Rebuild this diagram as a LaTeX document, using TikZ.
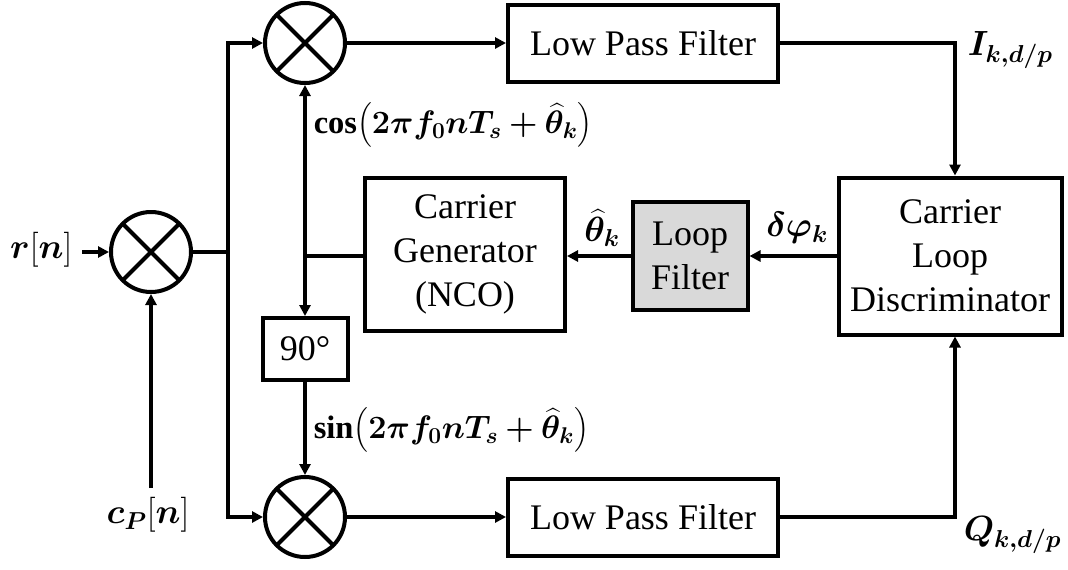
\RequirePackage{fix-cm}
\documentclass[tikz,border=0pt]{standalone}
\usepackage{amsmath}
\usepackage{bm}
\usepackage{fontspec}
\setmainfont{Liberation Serif}
\usetikzlibrary{arrows.meta}
\definecolor{lfgray}{RGB}{217,217,217}
\begin{document}
\begin{tikzpicture}[x=1pt,y=-1pt, line width=3.5pt,
  box/.style={draw, line width=4pt, align=center, inner sep=0pt,
    font=\fontsize{36}{44}\selectfont},
  mixer/.style={circle, draw, line width=4pt, minimum size=80pt, inner sep=0pt,
    path picture={\draw[line width=4pt]
      (path picture bounding box.south west)--(path picture bounding box.north east)
      (path picture bounding box.north west)--(path picture bounding box.south east);}},
  arr/.style={-{Triangle[length=11pt,width=11pt]}},
  lbl/.style={font=\fontsize{35}{40}\selectfont, inner sep=0pt},
  trig/.style={font=\fontsize{32.5}{40}\selectfont, inner sep=0pt, anchor=west}]
\useasboundingbox (0,0) rectangle (1068,570);

% mixers
\node[mixer] (mL) at (151,252) {};
\node[mixer] (mT) at (305,43) {};
\node[mixer] (mB) at (305,517) {};

% blocks
\node[box, minimum width=270pt, minimum height=77pt] (lT) at (643,43) {Low Pass Filter};
\node[box, minimum width=270pt, minimum height=77pt] (lB) at (643,517) {Low Pass Filter};
\node[box, minimum width=223pt, minimum height=157pt] (disc) at (950,256) {Carrier\\Loop\\Discriminator};
\node[box, fill=lfgray, minimum width=115pt, minimum height=108pt] (lf) at (690,256) {Loop\\Filter};
\node[box, minimum width=200pt, minimum height=153pt] (nco) at (465,254) {Carrier\\Generator\\(NCO)};
\node[box, minimum width=85pt, minimum height=62pt] (ph) at (305,349) {90°};

% labels
\node[lbl, anchor=east] (r) at (74,250) {$\bm{r}[\bm{n}]$};
\node[lbl] (cpl) at (148,515) {$\bm{c_P}[\bm{n}]$};
\node[trig] (cosl) at (312,125) {$\mathbf{cos}\bigl(\bm{2\pi f_0 n T_s + \widehat{\theta}_k}\bigr)$};
\node[trig] (sinl) at (312,430) {$\mathbf{sin}\bigl(\bm{2\pi f_0 n T_s + \widehat{\theta}_k}\bigr)$};
\node[lbl] (thl) at (602,228) {$\bm{\widehat{\theta}_k}$};
\node[lbl] (dpl) at (797,228) {$\bm{\delta\varphi_k}$};
\node[lbl, anchor=west] (il) at (966,50) {$\bm{I_{k,d/p}}$};
\node[lbl, anchor=west] (ql) at (962,535) {$\bm{Q_{k,d/p}}$};

% coordinates
\coordinate (bus) at (228,252);
\coordinate (jn) at (305,256);
\coordinate (iC) at (955,43);
\coordinate (rin) at (82,252);
\coordinate (cp) at (151,488);

% connectors
\draw[arr] (rin) -- (mL.west);
\draw[arr] (cp) -- (mL.south);
\draw (mL.east) -- (bus);
\draw[arr] (bus) |- (mT.west);
\draw[arr] (bus) |- (mB.west);
\draw[arr] (mT.east) -- (lT.west);
\draw[arr] (mB.east) -- (lB.west);
\draw[arr] (lT.east) -| (iC |- disc.north);
\draw[arr] (lB.east) -| (iC |- disc.south);
\draw[arr] (disc.west) -- (lf.east);
\draw[arr] (lf.west) -- (nco.east |- lf.west);
\draw (nco.west |- jn) -- (jn);
\draw[arr] (jn) -- (mT.south);
\draw[arr] (jn) -- (ph.north);
\draw[arr] (ph.south) -- (mB.north);
\end{tikzpicture}
\end{document}
